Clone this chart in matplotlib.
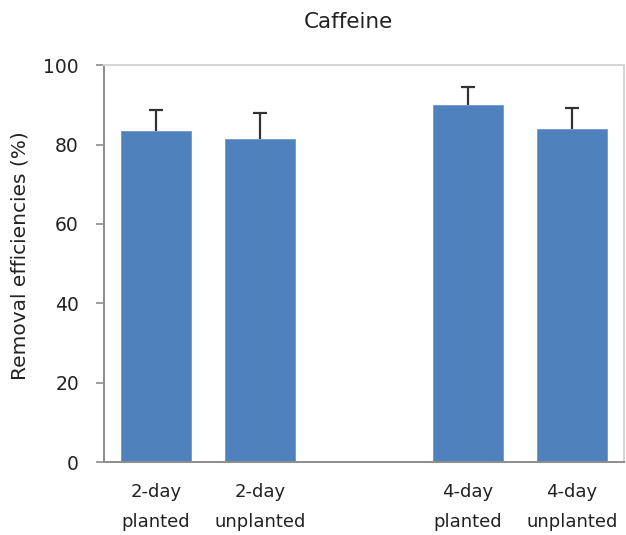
import matplotlib
matplotlib.use("Agg")
import matplotlib.pyplot as plt

plt.rcParams['font.family'] = ['DejaVu Sans']

positions = [0, 1, 3, 4]
labels = ["2-day\nplanted", "2-day\nunplanted", "4-day\nplanted", "4-day\nunplanted"]
values = [83.5, 81.4, 90.0, 83.9]
errors = [5.2, 6.5, 4.5, 5.4]
yticks = [0, 20, 40, 60, 80, 100]

fig = plt.figure(figsize=(6.26, 5.35), dpi=100)
ax = fig.add_axes([104/626, (535-462)/535, (624-104)/626, (462-65.3)/535])

ax.bar(positions, values, width=0.67, color='#4F81BD', edgecolor='#6F97CB', linewidth=0.6, zorder=2)
eb = ax.errorbar(positions, values, yerr=[[0]*len(errors), errors], fmt='none',
                 ecolor='#333333', elinewidth=1.6, capsize=4.7, capthick=1.6, zorder=3)
# hide the lower caps (only the upper half of the error bar is shown)
eb[1][0].set_visible(False)

ax.set_xlim(-0.5, 4.5)
ax.set_ylim(0, 100)
ax.set_yticks(yticks)
ax.set_yticklabels([str(t) for t in yticks], fontsize=13.5, color='#222222')
ax.set_xticks(positions)
ax.set_xticklabels(labels, fontsize=13, linespacing=1.85, color='#222222')
ax.tick_params(axis='x', length=0, pad=15)
ax.tick_params(axis='y', length=6, width=1.2, color='#8c8c8c', direction='out', pad=12)

for s in ['left', 'bottom']:
    ax.spines[s].set_color('#8c8c8c')
    ax.spines[s].set_linewidth(1.4)
for s in ['top', 'right']:
    ax.spines[s].set_color('#d4d4d4')
    ax.spines[s].set_linewidth(1.4)

ax.set_ylabel("Removal efficiencies (%)", fontsize=14.5, color='#222222')
ax.yaxis.set_label_coords(-(104-30)/520, 0.52)
fig.text(348/626, 1 - 22/535, "Caffeine", ha='center', va='center', fontsize=15.5, color='#222222')

fig.savefig("out.png", dpi=100)
